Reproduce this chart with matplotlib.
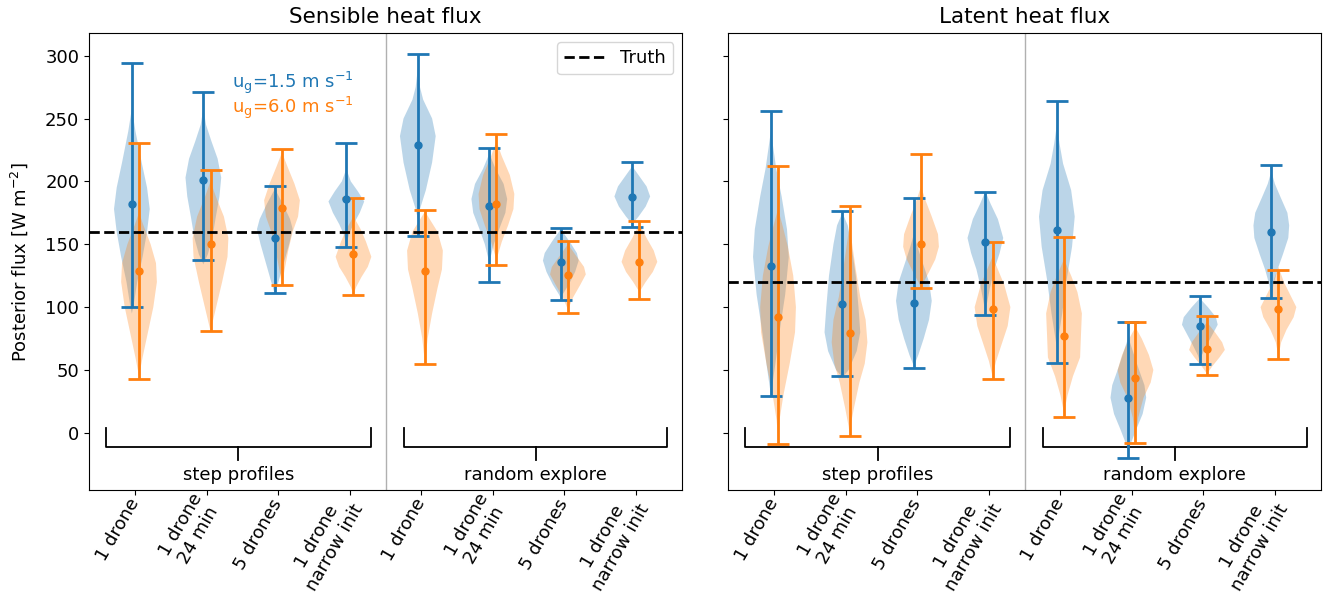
import matplotlib
matplotlib.use("Agg")
import matplotlib.pyplot as plt
import numpy as np

categories = ["1 drone", "1 drone\n24 min", "5 drones", "1 drone\nnarrow init",
              "1 drone", "1 drone\n24 min", "5 drones", "1 drone\nnarrow init"]
groups = ["step profiles", "random explore"]
titles = ["Sensible heat flux", "Latent heat flux"]
truth = [160, 120]

# error bar data: center, low, high
sens_blue_c = [182.3, 201.1, 155.2, 186.0, 229.0, 180.7, 135.6, 187.6]
sens_blue_lo = [100.3, 137.4, 110.9, 147.8, 156.8, 120.2, 105.6, 163.4]
sens_blue_hi = [294.0, 270.9, 196.3, 230.8, 301.4, 226.6, 163.2, 215.2]
sens_orng_c = [128.7, 150.4, 179.1, 142.5, 128.7, 182.3, 125.2, 135.6]
sens_orng_lo = [42.7, 81.0, 117.8, 109.3, 54.7, 133.7, 95.0, 106.7]
sens_orng_hi = [230.3, 209.1, 225.8, 186.5, 177.0, 237.7, 152.3, 168.5]

lat_blue_c = [132.7, 102.4, 103.0, 152.0, 161.6, 28.1, 84.7, 160.0]
lat_blue_lo = [29.5, 45.6, 51.2, 93.4, 55.5, -19.6, 55.0, 107.0]
lat_blue_hi = [256.3, 176.4, 187.0, 191.8, 264.0, 87.8, 108.8, 212.8]
lat_orng_c = [91.8, 79.1, 150.4, 98.7, 77.2, 43.3, 66.6, 98.2]
lat_orng_lo = [-8.7, -2.1, 115.2, 42.5, 12.8, -7.7, 46.2, 58.6]
lat_orng_hi = [212.5, 180.4, 221.5, 152.0, 155.7, 87.8, 92.6, 129.2]

# violin density profiles: (flux levels, relative width)
sens_blue_prof = [
    ([258, 240, 215, 195, 178, 160, 140, 120, 100, 95], [0, 0.2, 0.55, 0.85, 1.0, 0.85, 0.6, 0.3, 0.08, 0]),
    ([258, 245, 232, 218, 203, 188, 172, 155, 142, 134], [0, 0.15, 0.45, 0.8, 1.0, 0.9, 0.7, 0.5, 0.25, 0]),
    ([194, 182, 170, 162, 150, 135, 120, 110], [0, 0.45, 0.85, 1.0, 0.8, 0.5, 0.2, 0]),
    ([210, 200, 192, 184, 175, 166, 158, 149], [0, 0.25, 0.65, 1.0, 0.75, 0.4, 0.15, 0]),
    ([290, 275, 265, 250, 236, 215, 193, 178, 170], [0, 0.12, 0.3, 0.8, 1.0, 0.8, 0.45, 0.12, 0]),
    ([222, 210, 198, 186, 175, 162, 150, 140, 134], [0, 0.35, 0.8, 1.0, 0.9, 0.55, 0.25, 0.08, 0]),
    ([162, 152, 143, 137, 128, 118, 110, 107], [0, 0.5, 0.9, 1.0, 0.8, 0.45, 0.1, 0]),
    ([212, 205, 196, 188, 180, 172, 166], [0, 0.35, 0.8, 1.0, 0.75, 0.35, 0]),
]
sens_orng_prof = [
    ([175, 165, 150, 135, 120, 100, 80, 60, 45], [0, 0.25, 0.65, 0.95, 1.0, 0.8, 0.5, 0.2, 0]),
    ([200, 188, 172, 155, 140, 120, 105, 90, 81], [0, 0.3, 0.75, 1.0, 0.95, 0.65, 0.4, 0.15, 0]),
    ([223, 212, 198, 185, 172, 160, 145, 130, 118], [0, 0.3, 0.7, 1.0, 0.9, 0.6, 0.35, 0.15, 0]),
    ([172, 162, 152, 140, 132, 124, 116, 110], [0, 0.4, 0.7, 1.0, 0.8, 0.45, 0.15, 0]),
    ([176, 168, 160, 145, 130, 115, 95, 75, 55], [0, 0.35, 0.7, 1.0, 0.95, 0.7, 0.4, 0.15, 0]),
    ([232, 220, 205, 190, 178, 165, 152, 140, 136], [0, 0.3, 0.75, 1.0, 0.95, 0.65, 0.3, 0.05, 0]),
    ([150, 140, 132, 126, 118, 108, 98], [0, 0.5, 0.9, 1.0, 0.7, 0.3, 0]),
    ([166, 155, 145, 136, 128, 120, 112], [0, 0.4, 0.8, 1.0, 0.75, 0.35, 0]),
]
lat_blue_prof = [
    ([240, 225, 210, 188, 162, 140, 110, 82, 55, 35, 28], [0, 0.15, 0.3, 0.6, 0.9, 1.0, 0.8, 0.5, 0.25, 0.05, 0]),
    ([175, 165, 150, 125, 100, 80, 65, 50, 44], [0, 0.3, 0.5, 0.75, 0.9, 1.0, 0.8, 0.35, 0]),
    ([158, 148, 135, 120, 105, 90, 75, 62, 53], [0, 0.2, 0.5, 0.85, 1.0, 0.85, 0.55, 0.25, 0]),
    ([192, 182, 170, 155, 143, 130, 115, 100, 96], [0, 0.3, 0.7, 1.0, 0.8, 0.5, 0.25, 0.05, 0]),
    ([245, 230, 214, 193, 172, 148, 122, 95, 75, 68], [0, 0.15, 0.35, 0.8, 1.0, 0.85, 0.55, 0.3, 0.08, 0]),
    ([76, 65, 52, 38, 28, 15, 3, -8, -14], [0, 0.25, 0.55, 0.9, 1.0, 0.8, 0.45, 0.15, 0]),
    ([107, 100, 92, 86, 78, 70, 62, 57], [0, 0.45, 0.9, 1.0, 0.7, 0.4, 0.12, 0]),
    ([208, 198, 188, 175, 165, 155, 142, 130, 118, 108], [0, 0.2, 0.5, 0.9, 1.0, 0.95, 0.65, 0.35, 0.12, 0]),
]
lat_orng_prof = [
    ([178, 165, 148, 125, 100, 80, 55, 30, 10, -5], [0, 0.25, 0.55, 0.85, 1.0, 0.95, 0.65, 0.3, 0.08, 0]),
    ([165, 150, 130, 108, 90, 72, 55, 40, 20, 5, -1], [0, 0.15, 0.35, 0.6, 0.9, 1.0, 0.85, 0.55, 0.25, 0.05, 0]),
    ([196, 185, 172, 158, 148, 138, 128, 120, 116], [0, 0.25, 0.6, 0.95, 1.0, 0.8, 0.45, 0.15, 0]),
    ([140, 130, 118, 100, 85, 70, 57, 45], [0, 0.3, 0.65, 1.0, 0.85, 0.5, 0.2, 0]),
    ([138, 125, 112, 95, 78, 60, 45, 30, 16], [0, 0.4, 0.75, 1.0, 0.95, 0.9, 0.5, 0.2, 0]),
    ([84, 75, 62, 50, 40, 28, 12, -5], [0, 0.35, 0.75, 1.0, 0.85, 0.45, 0.15, 0]),
    ([88, 80, 72, 66, 60, 53, 47], [0, 0.45, 0.85, 1.0, 0.7, 0.3, 0]),
    ([132, 120, 110, 100, 92, 82, 72, 61], [0, 0.3, 0.65, 1.0, 0.85, 0.45, 0.15, 0]),
]

BLUE = "#1f77b4"
ORANGE = "#ff7f0e"
FS = 13

plt.rcParams["font.family"] = ["DejaVu Sans"]
plt.rcParams["font.size"] = FS

fig, axes = plt.subplots(1, 2, figsize=(13.28, 6), dpi=100, sharey=True)
fig.subplots_adjust(left=0.067, right=0.995, bottom=0.183, top=0.945, wspace=0.077)

panels = [
    (sens_blue_prof, sens_orng_prof, (sens_blue_c, sens_blue_lo, sens_blue_hi),
     (sens_orng_c, sens_orng_lo, sens_orng_hi)),
    (lat_blue_prof, lat_orng_prof, (lat_blue_c, lat_blue_lo, lat_blue_hi),
     (lat_orng_c, lat_orng_lo, lat_orng_hi)),
]

x = np.arange(len(categories))
off = 0.05


def make_stats(profiles):
    stats = []
    for ys, ws in profiles:
        ys = np.asarray(ys, float)
        ws = np.asarray(ws, float)
        stats.append(dict(coords=ys, vals=ws, mean=ys.mean(), median=np.median(ys),
                          min=ys.min(), max=ys.max()))
    return stats


for i, ax in enumerate(axes):
    bprof, oprof, bbar, obar = panels[i]
    for prof, pos, col in [(bprof, x - off, BLUE), (oprof, x + off, ORANGE)]:
        parts = ax.violin(make_stats(prof), positions=pos, widths=0.5,
                          showmeans=False, showextrema=False, showmedians=False)
        for b in parts["bodies"]:
            b.set_facecolor(col)
            b.set_edgecolor("none")
            b.set_alpha(0.3)
    for (c, lo, hi), pos, col in [(bbar, x - off, BLUE), (obar, x + off, ORANGE)]:
        c = np.asarray(c)
        yerr = [c - np.asarray(lo), np.asarray(hi) - c]
        ax.errorbar(pos, c, yerr=yerr, fmt="o", color=col, ms=5, elinewidth=2,
                    capsize=8, capthick=2, zorder=3)
    ax.axhline(truth[i], color="black", ls="--", lw=2, zorder=5, label="Truth")
    ax.axvline(3.5, color="#b0b0b0", lw=1, zorder=0)
    ax.set_xlim(-0.65, 7.65)
    ax.set_ylim(-45.6, 318)
    ax.set_yticks(np.arange(0, 301, 50))
    ax.set_xticks(x)
    ax.set_xticklabels(categories, rotation=60, ha="right", va="center",
                       rotation_mode="anchor", ma="center")
    ax.set_title(titles[i], fontsize=15.5, pad=7)
    # group brackets
    for gx0, gx1, gname in [(0.028, 0.476, groups[0]), (0.531, 0.975, groups[1])]:
        tr = ax.transAxes
        ax.plot([gx0, gx0, gx1, gx1], [0.136, 0.095, 0.095, 0.136], color="black",
                lw=1.3, transform=tr, clip_on=False)
        xm = (gx0 + gx1) / 2
        ax.plot([xm, xm], [0.095, 0.066], color="black", lw=1.3, transform=tr)
        ax.text(xm, 0.033, gname, ha="center", va="center", transform=tr, fontsize=FS)

axes[0].set_ylabel("Posterior flux [W m$^{-2}$]", fontsize=FS, labelpad=11)
axes[0].legend(loc="upper right", fontsize=FS, handlelength=2.3)
axes[0].text(0.447, 0.89, r"u$_\mathrm{g}$=1.5 m s$^{-1}$", color=BLUE, ha="right",
             va="center", transform=axes[0].transAxes, fontsize=FS)
axes[0].text(0.447, 0.836, r"u$_\mathrm{g}$=6.0 m s$^{-1}$", color=ORANGE, ha="right",
             va="center", transform=axes[0].transAxes, fontsize=FS)
axes[1].tick_params(labelleft=False)

fig.savefig("out.png", dpi=100)
